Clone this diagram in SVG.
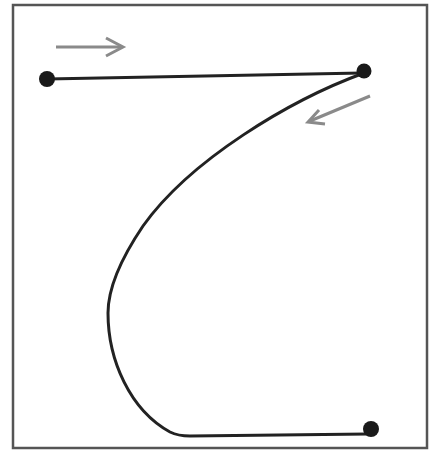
<svg xmlns="http://www.w3.org/2000/svg" width="430" height="452" viewBox="0 0 430 452">
<style>
.frame{fill:none;stroke:#555;stroke-width:2.5}
.wire{fill:none;stroke:#222;stroke-width:3;stroke-linecap:round}
.dot{fill:#1a1a1a}
.dir{fill:none;stroke:#8a8a8a;stroke-width:3}
.head{fill:none;stroke:#8a8a8a;stroke-width:3;stroke-linejoin:miter}
</style>
<rect width="430" height="452" fill="#fff"/>
<rect class="frame" x="13" y="5" width="414" height="443"/>
<g id="connectors">
<path class="wire" d="M47,79 L362,73"/>
<path class="wire" d="M364,73 C290,100 190,160 143,226 C120,260 108,290 108,313 C108,360 130,410 170,432 C176,435 180,436 190,436 L368,434"/>
</g>
<g id="arrow-right">
<path class="dir" d="M56,47 L122,47"/>
<path class="head" d="M106,38 L123,47 L106,56"/>
</g>
<g id="arrow-back">
<path class="dir" d="M370,96 L310,121"/>
<path class="head" d="M319,110 L308,122 L325,124"/>
</g>
<g id="node-a"><circle class="dot" cx="47" cy="79" r="8"/></g>
<g id="node-b"><circle class="dot" cx="364" cy="71" r="7.5"/></g>
<g id="node-c"><circle class="dot" cx="371" cy="429" r="8"/></g>
</svg>
